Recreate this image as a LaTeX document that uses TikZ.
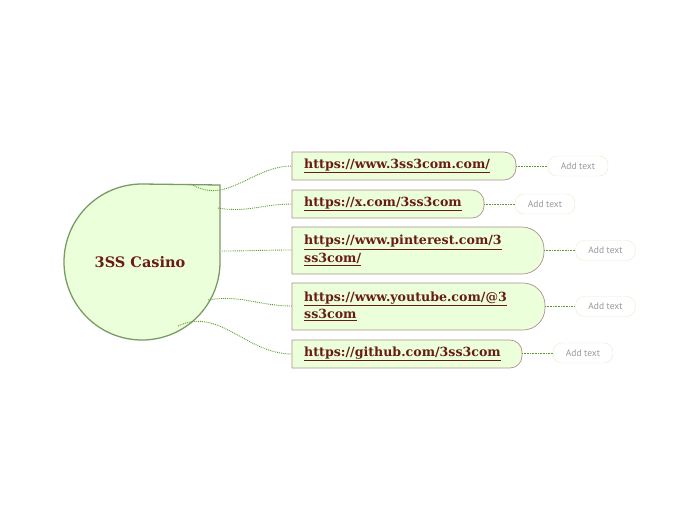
\documentclass[tikz,border=0pt]{standalone}
\usepackage{fontspec}
\setmainfont{DejaVu Serif}
\newfontfamily\addfont{PT Sans}
\definecolor{fillg}{HTML}{EAFFDA}
\definecolor{txtr}{HTML}{6B1A1A}
\definecolor{edg}{HTML}{B09090}
\definecolor{lineg}{HTML}{5A9A2A}
\definecolor{pill}{HTML}{EEEBC8}
\definecolor{cedge}{HTML}{7A9A66}
\begin{document}
\begin{tikzpicture}[x=1pt,y=-1pt,
  lbl/.style={anchor=west,inner sep=0,text=txtr,font=\bfseries\fontsize{12.6}{17.5}\selectfont,align=left},
  conn/.style={lineg,densely dotted,line width=0.9pt},
  addt/.style={draw=pill,fill=white,rounded corners=9,minimum width=60,minimum height=20,inner sep=0,text=gray!80,font=\addfont\fontsize{9.5}{10}\selectfont},
  boxs/.style={draw=edg,fill=fillg,line width=0.7pt}]
\useasboundingbox (0,0) rectangle (697,520);
% central
\draw[draw=cedge,fill=fillg,line width=1.3pt] (220,185) -- (220,262) arc(0:270:78) -- cycle;
\node[text=txtr,font=\bfseries\fontsize{14.5}{16}\selectfont] (c) at (140,262) {3SS Casino};
% boxes
\foreach \x/\ya/\yb/\r in {516/152/180/12, 484/190/218/12, 544/227/274/22, 545/283/330/22, 522/340/368/12}{
  \draw[boxs] (292,\ya) [rounded corners=\r] -- (\x,\ya) -- (\x,\yb) [sharp corners] -- (292,\yb) -- cycle;}
\node[lbl] (b1) at (304,166) {\underline{https://www.3ss3com.com/}};
\node[lbl] (b2) at (304,204) {\underline{https://x.com/3ss3com}};
\node[lbl] (b3) at (304,250.5) {\underline{https://www.pinterest.com/3}\\\underline{ss3com/}};
\node[lbl] (b4) at (304,306.5) {\underline{https://www.youtube.com/@3}\\\underline{ss3com}};
\node[lbl] (b5) at (304,354) {\underline{https://github.com/3ss3com}};
\coordinate (e1) at (292,166); \coordinate (e2) at (292,204); \coordinate (e3) at (292,250);
\coordinate (e4) at (292,306); \coordinate (e5) at (292,354);
\coordinate (s1) at (193,185); \coordinate (s2) at (218,208); \coordinate (s3) at (222,251);
\coordinate (s4) at (208,300); \coordinate (s5) at (178,326);
\draw[conn] (s1) to[out=-30,in=180] (e1);
\draw[conn] (s2) to[out=-10,in=180] (e2);
\draw[conn] (s3) to[out=0,in=180] (e3);
\draw[conn] (s4) to[out=10,in=180] (e4);
\draw[conn] (s5) to[out=25,in=180] (e5);
% add text
\node[addt] (a1) at (578,166) {Add text};
\node[addt] (a2) at (545,204) {Add text};
\node[addt] (a3) at (605.5,250.5) {Add text};
\node[addt] (a4) at (605.5,306.5) {Add text};
\node[addt] (a5) at (583,353) {Add text};
\coordinate (r1) at (516,166); \coordinate (r2) at (484,204); \coordinate (r3) at (544,250.5);
\coordinate (r4) at (545,306.5); \coordinate (r5) at (522,353);
\foreach \i in {1,...,5}{\draw[conn,line width=0.6pt] (r\i) -- (a\i);}
\end{tikzpicture}
\end{document}
